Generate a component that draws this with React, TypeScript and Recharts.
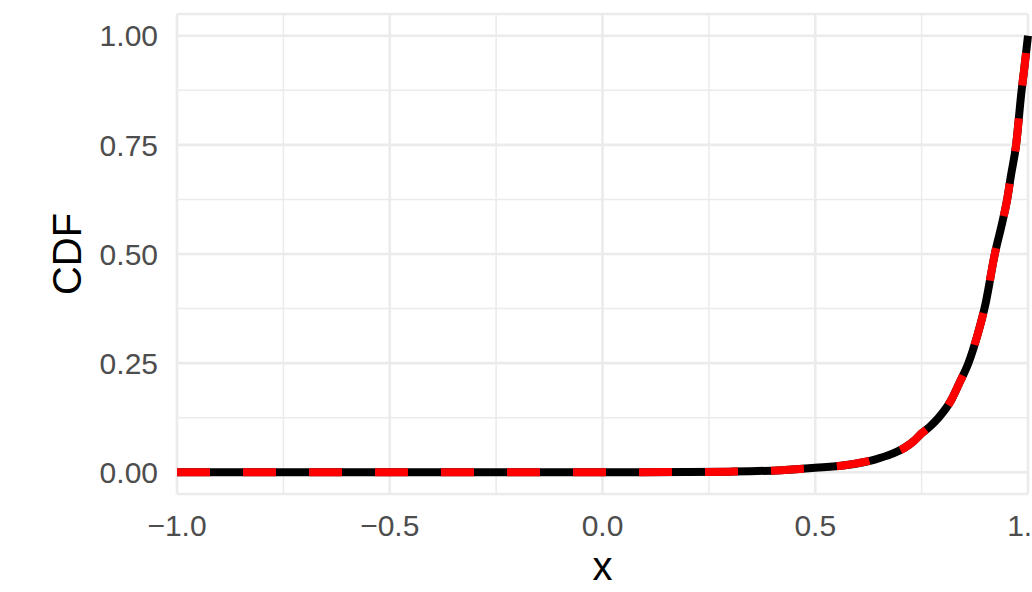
import { LineChart, Line, XAxis, YAxis, CartesianGrid, Label } from "recharts";

// values
const xValues = [
  -1, -0.5, 0, 0.2, 0.3, 0.42, 0.5, 0.57, 0.64, 0.68, 0.71, 0.73, 0.75, 0.77, 0.79, 0.82, 0.84, 0.86,
  0.88, 0.9, 0.922, 0.94, 0.951, 0.96, 0.972, 0.985, 0.99, 1,
];
const cdfValues = [
  0, 0, 0, 0.0003, 0.0012, 0.0046, 0.01, 0.016, 0.029, 0.042, 0.056, 0.07, 0.089, 0.105, 0.125, 0.166, 0.207, 0.25,
  0.31, 0.385, 0.5, 0.574, 0.625, 0.68, 0.75, 0.875, 0.915, 1,
];

const xTicks = [-1, -0.5, 0, 0.5, 1];
const yTicks = [0, 0.25, 0.5, 0.75, 1];
const xMinor = [-0.75, -0.25, 0.25, 0.75];
const yMinor = [0.125, 0.375, 0.625, 0.875];

const data = xValues.map((x, i) => ({ x, cdf: cdfValues[i] }));

const FONT = "'Liberation Sans', Arial, Helvetica, sans-serif";
const GRID = "#EBEBEB";

const fmtX = (v: number) => (v < 0 ? "\u2212" : "") + Math.abs(v).toFixed(1);
const fmtY = (v: number) => v.toFixed(2);

function YTitle(props: any) {
  const vb = props.viewBox || { x: 0, y: 0, width: 0, height: 0 };
  const cx = vb.x + 81;
  const cy = vb.y + vb.height / 2;
  return (
    <text
      x={cx}
      y={cy}
      transform={`rotate(-90, ${cx}, ${cy})`}
      textAnchor="middle"
      fontSize={40}
      fontFamily={FONT}
      fill="#000000"
    >
      CDF
    </text>
  );
}

export default function App() {
  return (
    <div style={{ position: "absolute", left: 0, top: 0, background: "#fff" }}>
      <LineChart
        width={1032}
        height={592}
        data={data}
        margin={{ top: 14, right: 4, bottom: 0, left: 0 }}
      >
        <CartesianGrid
          stroke={GRID}
          strokeWidth={1.5}
          horizontalValues={yMinor}
          verticalValues={xMinor}
        />
        <CartesianGrid stroke={GRID} strokeWidth={2.6} />
        <XAxis
          dataKey="x"
          type="number"
          domain={[-1, 1]}
          ticks={xTicks}
          interval={0}
          tickFormatter={fmtX}
          axisLine={false}
          tickLine={false}
          tickSize={0}
          tickMargin={21}
          height={98}
          tick={{ fill: "#4D4D4D", fontSize: 30, fontFamily: FONT }}
        >
          <Label
            value="x"
            position="insideBottom"
            offset={12}
            style={{ fontSize: 40, fontFamily: FONT, fill: "#000000" }}
          />
        </XAxis>
        <YAxis
          type="number"
          domain={[-0.05, 1.05]}
          ticks={yTicks}
          interval={0}
          tickFormatter={fmtY}
          axisLine={false}
          tickLine={false}
          tickSize={0}
          tickMargin={19}
          width={177}
          tick={{ fill: "#4D4D4D", fontSize: 30, fontFamily: FONT }}
        >
          <Label content={YTitle} />
        </YAxis>
        <Line
          type="monotone"
          dataKey="cdf"
          stroke="#000000"
          strokeWidth={8}
          dot={false}
          activeDot={false}
          isAnimationActive={false}
        />
        <Line
          type="monotone"
          dataKey="cdf"
          stroke="#FF0000"
          strokeWidth={8}
          strokeDasharray="33 33"
          dot={false}
          activeDot={false}
          isAnimationActive={false}
        />
      </LineChart>
    </div>
  );
}
